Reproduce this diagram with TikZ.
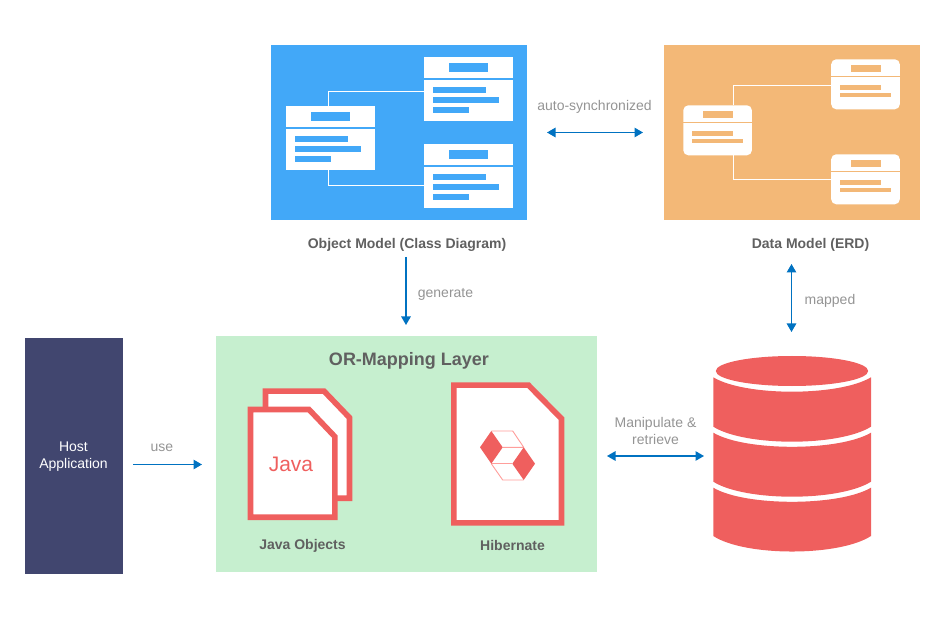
\documentclass[tikz,border=0pt]{standalone}
\usepackage{fontspec}
\setmainfont{Liberation Sans}
\usetikzlibrary{arrows.meta}
\definecolor{blueBg}{HTML}{42A8F8}
\definecolor{orangeBg}{HTML}{F3B877}
\definecolor{greenBg}{HTML}{C6EFCF}
\definecolor{hostBg}{HTML}{41466F}
\definecolor{redC}{HTML}{EF5F5E}
\definecolor{redL}{HTML}{FF9E9B}
\definecolor{arrowC}{HTML}{0072C1}
\definecolor{labelC}{HTML}{949494}
\definecolor{titleC}{HTML}{606060}
\tikzset{
  x=1pt,y=-1pt,
  box/.style={inner sep=0pt,outer sep=0pt,draw=none,anchor=north west},
  tip/.tip={Triangle[length=8.5pt,width=9.5pt]},
  flow/.style={draw=arrowC,line width=1.2pt,tip-tip},
  flowone/.style={draw=arrowC,line width=1.2pt,-tip},
  lbl/.style={text=labelC,font=\fontsize{14}{17}\selectfont,inner sep=0pt,align=center},
  ttl/.style={text=titleC,font=\fontsize{14}{16}\selectfont\bfseries,inner sep=0pt},
  wire/.style={draw=white,line width=1.1pt},
  doc/.style={draw=redC,fill=white,line width=5.6pt,miter limit=10},
  cyl/.style={fill=redC,draw=none},
  cube/.style={draw=redL,line width=0.9pt,line join=round},
}
% class box: #1 name, #2 x, #3 y
\newcommand{\classbox}[3]{%
  \node[box,fill=white,minimum width=88.7pt,minimum height=21.3pt] (#1h) at (#2,#3) {};
  \node[box,fill=white,minimum width=88.7pt,minimum height=41pt] (#1b) at (#2,#3+23.6) {};
  \fill[blueBg] (#2+25,#3+6.6) rectangle (#2+64,#3+15.3);
  \fill[blueBg] (#2+9,#3+30.6) rectangle (#2+62,#3+36.3);
  \fill[blueBg] (#2+9,#3+40.6) rectangle (#2+75,#3+46);
  \fill[blueBg] (#2+9,#3+50.6) rectangle (#2+45,#3+56);
}
% entity box: #1 name, #2 x, #3 y
\newcommand{\entitybox}[3]{%
  \node[box,fill=white,rounded corners=5pt,minimum width=68.6pt,minimum height=50pt] (#1) at (#2,#3) {};
  \fill[orangeBg] (#2,#3+16.6) rectangle (#2+68.6,#3+17.9);
  \fill[orangeBg] (#2+19.3,#3+5.7) rectangle (#2+49.7,#3+12.4);
  \fill[orangeBg] (#2+9,#3+25.7) rectangle (#2+50,#3+30.7);
  \fill[orangeBg] (#2+9,#3+33.4) rectangle (#2+60,#3+38);
}
\begin{document}
\begin{tikzpicture}
\useasboundingbox (0,0) rectangle (940,620);
% panels
\node[box,fill=blueBg,minimum width=256pt,minimum height=175pt] (objpanel) at (271,45) {};
\node[box,fill=orangeBg,minimum width=256pt,minimum height=175pt] (datapanel) at (664,45) {};
\node[box,fill=greenBg,minimum width=381pt,minimum height=236pt] (orm) at (216,336) {};
\node[box,fill=hostBg,minimum width=98pt,minimum height=236pt] (host) at (25,338) {};
% class diagram
\coordinate (wA) at (328.3,105.7);
\coordinate (wB) at (328.3,170);
\draw[wire] (wA) |- (424,91.3) coordinate (wAe);
\draw[wire] (wB) |- (424,185.3) coordinate (wBe);
\classbox{cA}{424}{56.7}
\classbox{cB}{286}{105.7}
\classbox{cC}{424}{143.7}
% ERD
\coordinate (eA) at (733.3,105.3);
\coordinate (eB) at (733.3,155.3);
\draw[wire] (eA) |- (831,85.3) coordinate (eAe);
\draw[wire] (eB) |- (831,179.3) coordinate (eBe);
\entitybox{eT}{831.2}{59.3}
\entitybox{eL}{683.3}{105.3}
\entitybox{eU}{831.2}{154.3}
% titles
\node[ttl] (objt) at (407,244.5) {Object Model (Class Diagram)};
\node[ttl] (datat) at (810.5,244.5) {Data Model (ERD)};
\node[ttl,font=\fontsize{18}{20}\selectfont\bfseries] (ormt) at (409,361) {OR-Mapping Layer};
\node[ttl] (javat) at (302.5,546) {Java Objects};
\node[ttl] (hibt) at (512.5,545) {Hibernate};
% java docs
\path[doc] (265.5,391.1) -- (324,391.1) -- (349.5,417.7) -- (349.5,498.2) -- (265.5,498.2) -- cycle;
\path[doc] (250.5,409.5) -- (309,409.5) -- (334.9,436.7) -- (334.9,517.2) -- (250.5,517.2) -- cycle;
\node[text=redC,font=\fontsize{21}{24}\selectfont,inner sep=0pt] (javaword) at (291,464.5) {Java};
% hibernate doc
\path[doc] (453.8,385.1) -- (528.4,385.1) -- (561.5,418.7) -- (561.5,522.9) -- (453.8,522.9) -- cycle;
% cube logo
\draw[cube] (491.3,431) -- (512.7,431) -- (523.7,447.3) -- (502.7,447.3);
\draw[cube] (491.3,463.7) -- (512.3,463.7);
\draw[cube] (491.3,463.7) -- (502.7,480) -- (523.7,480);
\fill[redC] (480,447.3) -- (491.3,431) -- (502.7,447.3) -- (491.3,463.7) -- cycle;
\fill[redC] (512.3,463.7) -- (523.7,447.3) -- (535,463.7) -- (523.7,480) -- cycle;
% host text
\node[text=white,font=\fontsize{14}{17}\selectfont,inner sep=0pt,align=center] (hostt) at (73.5,456.5) {Host\\Application};
% database
\fill[cyl] (792,371) ellipse [x radius=76.2,y radius=15];
\fill[cyl] (713.3,377.3) .. controls (745,396.5) and (839,396.5) .. (871,377.3) -- (871,426.7) .. controls (839,446.7) and (745,446.7) .. (713.3,426.7) -- cycle;
\fill[cyl] (713.3,432.7) .. controls (745,451.5) and (839,451.5) .. (871,432.7) -- (871,481.7) .. controls (839,501.7) and (745,501.7) .. (713.3,481.7) -- cycle;
\fill[cyl] (713.3,487.7) .. controls (745,506.5) and (839,506.5) .. (871,487.7) -- (871,536) .. controls (839,556.7) and (745,556.7) .. (713.3,536) -- cycle;
% connectors
\coordinate (syncL) at (547,132.5);
\coordinate (syncR) at (643,132.5);
\coordinate (genA) at (406,257);
\coordinate (genB) at (406,325);
\coordinate (mapA) at (791.5,264);
\coordinate (mapB) at (791.5,332);
\coordinate (useA) at (133,464.5);
\coordinate (useB) at (202,464.5);
\coordinate (manL) at (607,456);
\coordinate (manR) at (704,456);
\draw[flow] (syncL) -- (syncR);
\draw[flowone] (genA) -- (genB);
\draw[flow] (mapA) -- (mapB);
\draw[flowone] (useA) -- (useB);
\draw[flow] (manL) -- (manR);
% labels
\node[lbl] (syncl) at (594.5,106.5) {auto-synchronized};
\node[lbl] (genl) at (445.5,294) {generate};
\node[lbl] (mapl) at (830,301) {mapped};
\node[lbl] (usel) at (162,447.5) {use};
\node[lbl] (manl) at (655.5,430.5) {Manipulate \&\\retrieve};
\end{tikzpicture}
\end{document}
